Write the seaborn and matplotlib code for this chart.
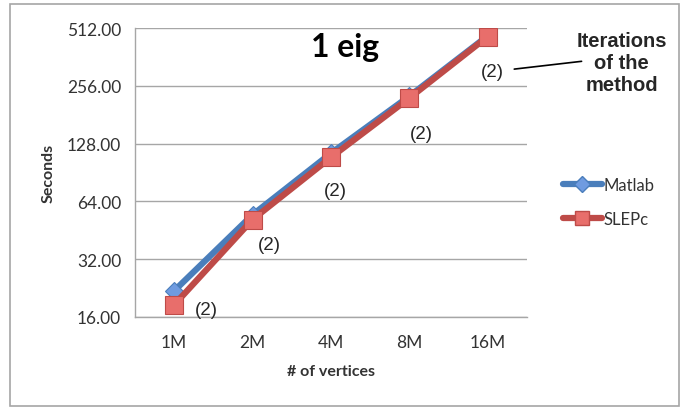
import matplotlib
matplotlib.use("Agg")
import matplotlib.pyplot as plt
import matplotlib.ticker as mticker
from matplotlib.lines import Line2D
import seaborn as sns
import pandas as pd
import numpy as np

vertices = ["1M", "2M", "4M", "8M", "16M"]
matlab = [21.9, 54.5, 114.0, 226.0, 466.0]
slepc = [18.5, 51.5, 108.5, 221.0, 462.0]
iterations = ["(2)", "(2)", "(2)", "(2)", "(2)"]
y_ticks = [16, 32, 64, 128, 256, 512]

df = pd.DataFrame({
    "vertices": vertices * 2,
    "seconds": matlab + slepc,
    "method": ["Matlab"] * 5 + ["SLEPc"] * 5,
})

sns.set_style("white")
plt.rcParams["font.family"] = ["Lato", "DejaVu Sans"]

fig = plt.figure(figsize=(6.94, 4.10), dpi=100)
ax = fig.add_axes([0.1945, 0.2244, 0.5645, 0.7046])

# outer chart border
fig.patches.append(plt.Rectangle((0.0145, 0.007), 0.964, 0.98, transform=fig.transFigure,
                                 fill=False, edgecolor="#a6a6a6", linewidth=1.2))

x_pos = np.arange(len(vertices))
df["x"] = df["vertices"].map(dict(zip(vertices, x_pos)))

sns.lineplot(data=df, x="x", y="seconds", hue="method", style="method",
             palette={"Matlab": "#4a7ebb", "SLEPc": "#be4b48"},
             markers={"Matlab": "D", "SLEPc": "s"}, dashes=False,
             linewidth=4.5, markersize=12.5, ax=ax, legend=False, zorder=3)
for line, face in zip(ax.lines, ["#6f9be0", "#e86e6b"]):
    line.set_markerfacecolor(face)
    line.set_markeredgecolor(line.get_color())
    line.set_markeredgewidth(0.8)
ax.lines[0].set_markersize(9.5)

ax.set_yscale("log", base=2)
ax.set_ylim(16, 512)
ax.yaxis.set_major_locator(mticker.FixedLocator(y_ticks))
ax.yaxis.set_minor_locator(mticker.NullLocator())
ax.yaxis.set_major_formatter(mticker.FuncFormatter(lambda v, p: f"{v:.2f}"))
ax.set_xlim(-0.5, len(vertices) - 0.5)
ax.set_xticks(x_pos)
ax.set_xticklabels(vertices)
ax.set_xticks(np.arange(-0.5, len(vertices)), minor=True)
ax.tick_params(axis="x", which="major", length=0, pad=12, labelsize=12.5, colors="#333333")
ax.tick_params(axis="x", which="minor", length=6, width=1, color="#a6a6a6", direction="out")
ax.tick_params(axis="y", length=6, width=1, color="#a6a6a6", direction="out", pad=4,
               labelsize=12.5, labelcolor="#333333")
ax.grid(axis="y", color="#a6a6a6", linewidth=1)
ax.set_axisbelow(True)
for side in ["top", "right"]:
    ax.spines[side].set_visible(False)
for side in ["left", "bottom"]:
    ax.spines[side].set_color("#a6a6a6")
    ax.spines[side].set_linewidth(1)

ax.set_xlabel("# of vertices", fontsize=11.5, fontweight="bold", color="#333333", labelpad=10)
ax.set_ylabel("Seconds", fontsize=11.5, fontweight="bold", color="#333333", labelpad=8)

ax.text(0.535, 0.935, "1 eig", transform=ax.transAxes, fontsize=23, fontweight="bold",
        ha="center", va="center", color="black")

# iteration annotations (pixel offsets from SLEPc markers)
offsets = [(32, -5), (17, -25), (5, -33), (12, -35), (5, -35)]
for i, (lab, (dx, dy)) in enumerate(zip(iterations, offsets)):
    ax.annotate(lab, (x_pos[i], slepc[i]), xytext=(dx, dy), textcoords="offset pixels",
                ha="center", va="center", fontsize=13.5, family="Liberation Sans")

fig.text(0.896, 0.846, "Iterations\nof the\nmethod", ha="center", va="center",
         fontsize=14.5, fontweight="bold", family="Liberation Sans", linespacing=1.2)
fig.add_artist(Line2D([0.741, 0.838], [0.829, 0.848], transform=fig.transFigure,
                      color="black", linewidth=1.2))

# legend
handles = [Line2D([], [], color="#4a7ebb", linewidth=4.5, marker="D", markersize=8,
                  markerfacecolor="#6f9be0", markeredgecolor="#4a7ebb"),
           Line2D([], [], color="#be4b48", linewidth=4.5, marker="s", markersize=10,
                  markerfacecolor="#e86e6b", markeredgecolor="#be4b48")]
fig.legend(handles, ["Matlab", "SLEPc"], loc="center left", bbox_to_anchor=(0.79, 0.505),
           frameon=False, fontsize=12, handlelength=2.3, handletextpad=0.1,
           labelspacing=1.1, labelcolor="#333333")

fig.savefig("out.png", dpi=100)
